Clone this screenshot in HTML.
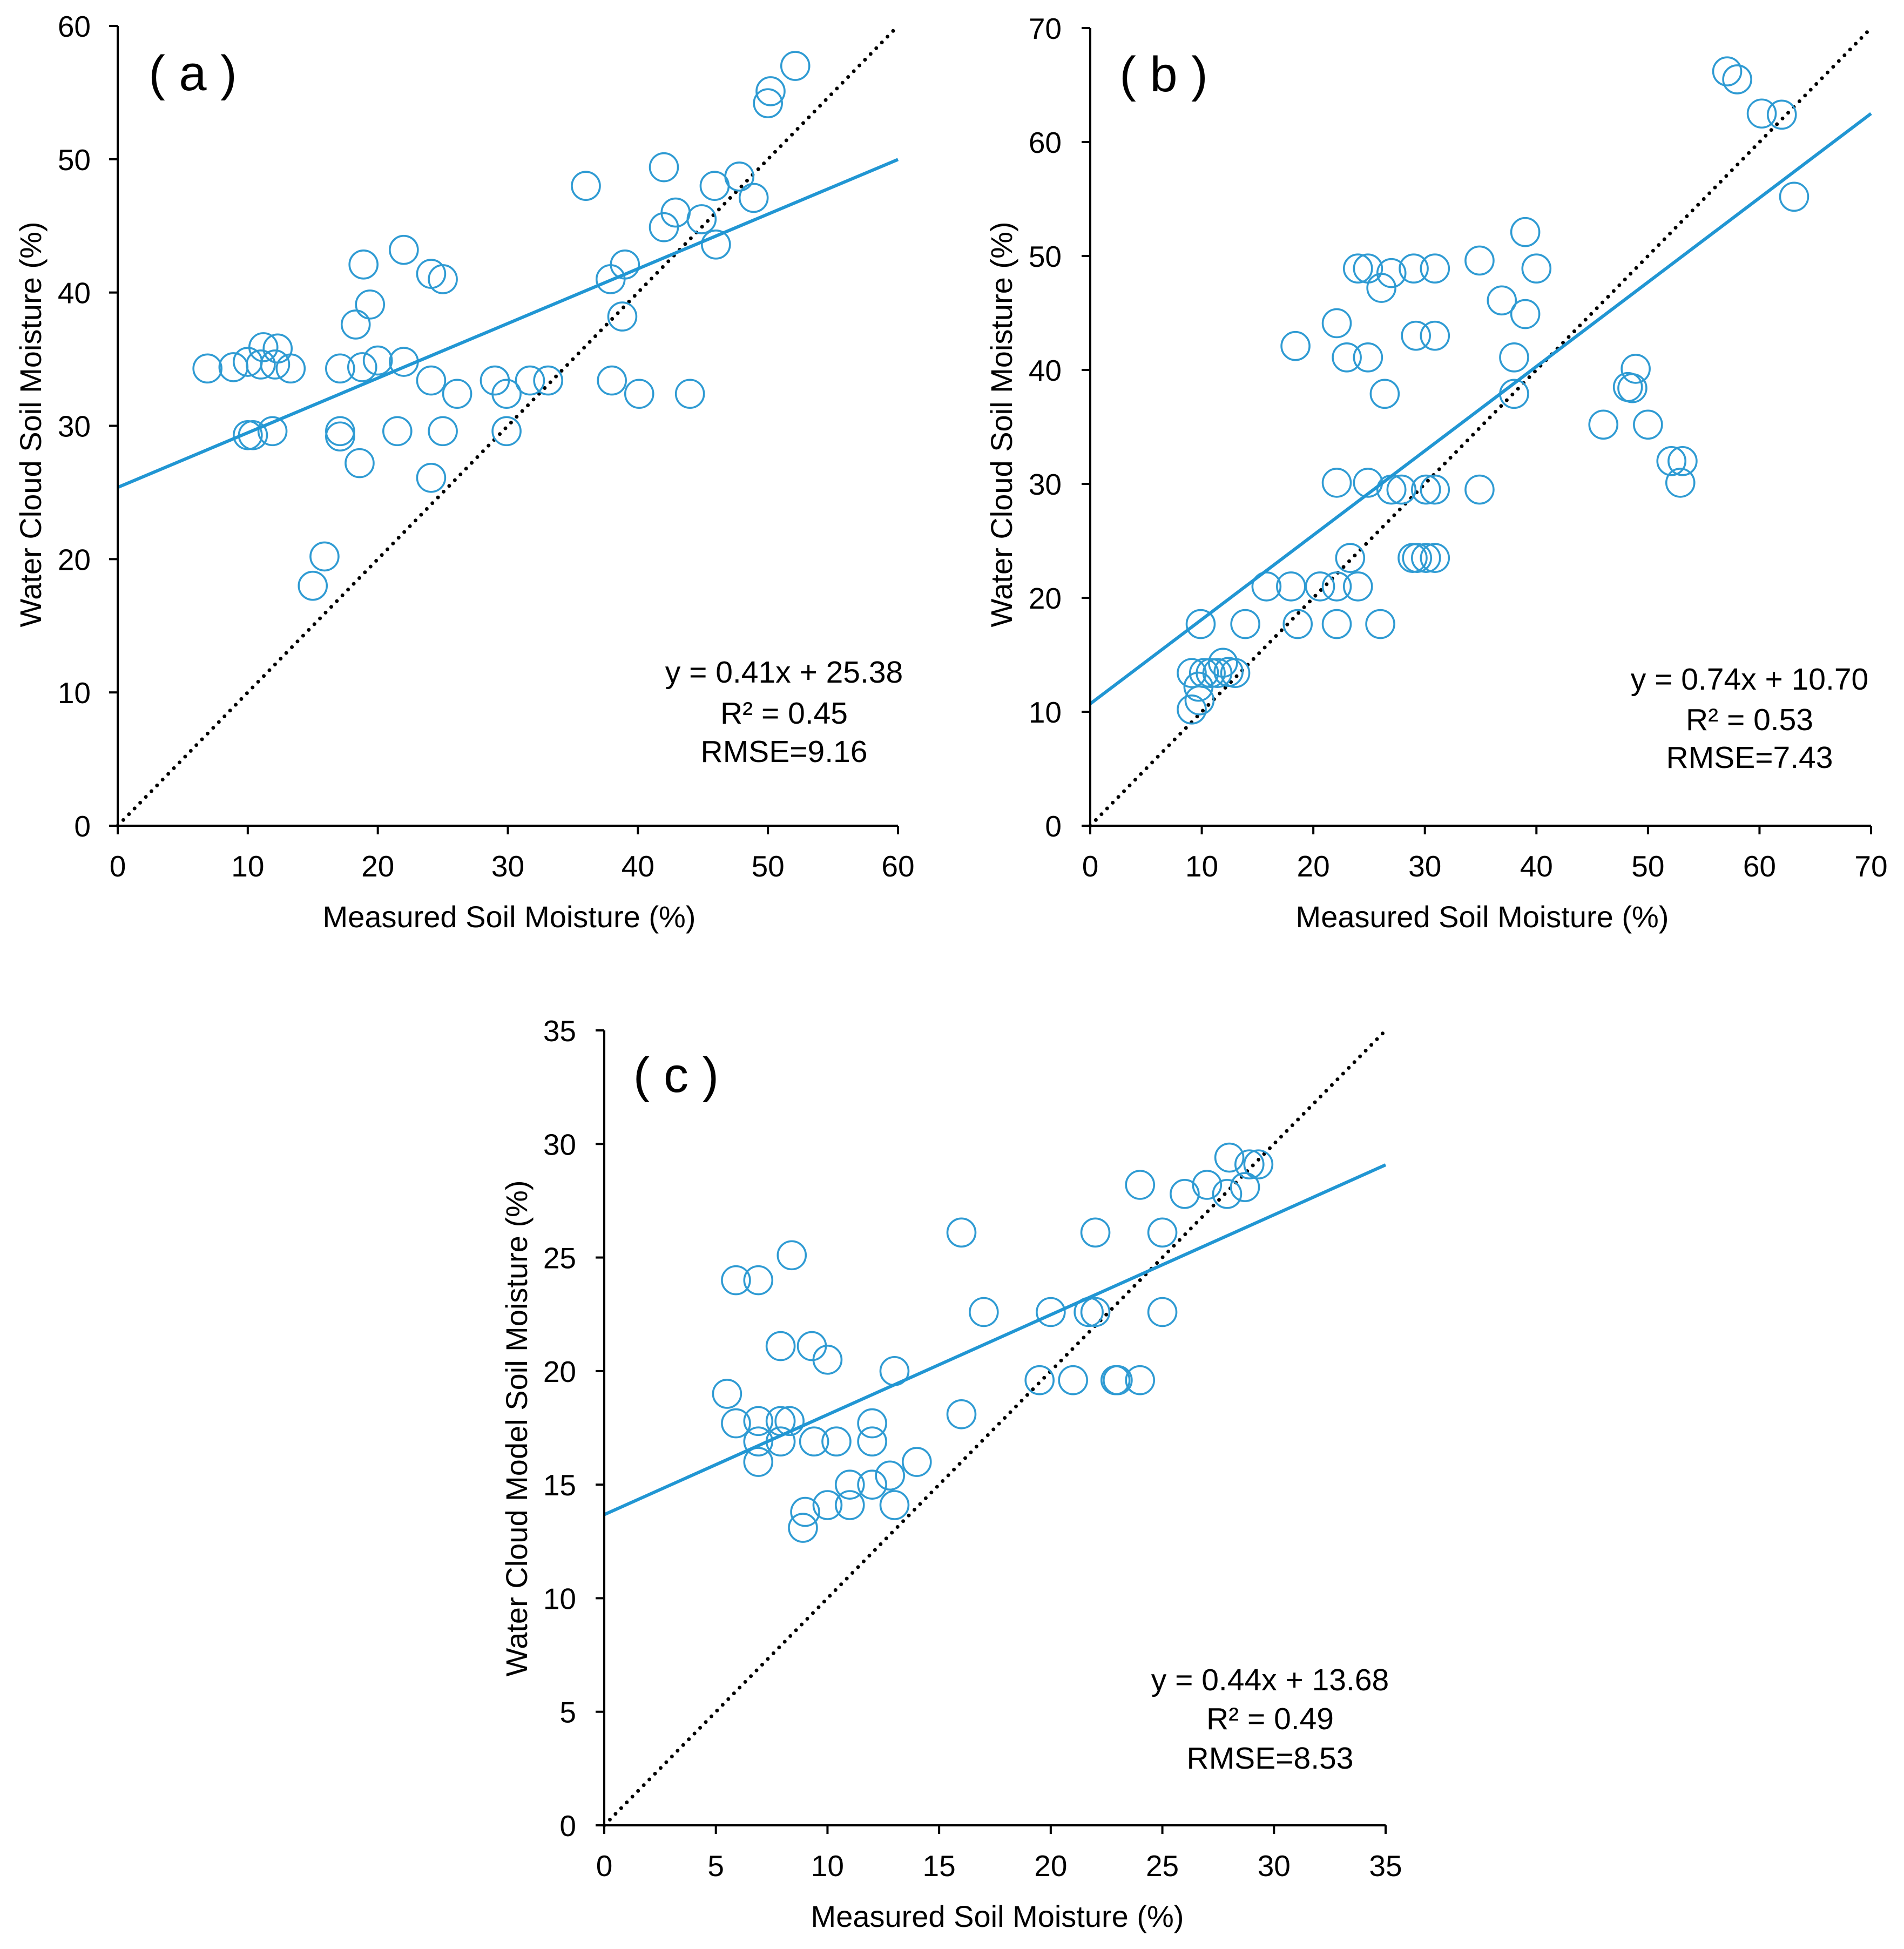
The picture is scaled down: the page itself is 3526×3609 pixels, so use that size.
<!DOCTYPE html>
<html><head><meta charset="utf-8"><style>
html,body{margin:0;padding:0;background:#fff;}
svg{display:block;font-family:"Liberation Sans",sans-serif;}
</style></head><body>
<svg id="chart" xmlns="http://www.w3.org/2000/svg" width="3526" height="3609" viewBox="0 0 3526 3609">
<rect width="3526" height="3609" fill="#fff"/>
</svg>
<script>
const aX=[6.9,8.9,10.0,11.2,11.0,12.3,12.1,13.3,10.0,10.4,11.9,17.1,18.8,20.0,22.0,18.3,19.4,18.9,22.0,24.1,25.0,17.1,17.1,18.6,21.5,25.0,24.1,26.1,24.1,15.9,15.0,29.0,29.9,29.9,31.7,33.1,36.0,37.9,39.0,38.8,38.0,40.1,44.0,42.0,42.0,42.9,44.9,45.9,46.0,47.8,48.9,50.2,50.0,52.1];
const aY=[34.3,34.4,34.8,35.9,34.6,35.8,34.6,34.3,29.3,29.3,29.6,34.3,34.4,34.9,34.8,37.6,39.1,42.1,43.2,41.4,41.0,29.6,29.2,27.2,29.6,29.6,33.4,32.4,26.1,20.2,18.0,33.4,32.4,29.6,33.4,33.4,48.0,41.0,42.1,38.2,33.4,32.4,32.4,49.4,44.9,46.0,45.5,48.0,43.6,48.7,47.1,55.1,54.2,57.0];
const bX=[57.1,58.0,60.2,62.0,63.1,39.0,34.9,40.0,24.0,24.9,27.0,26.1,29.0,30.9,36.9,39.0,22.1,18.4,23.0,24.9,29.2,30.9,26.4,38.0,38.0,48.9,48.2,48.6,46.0,50.0,52.1,53.1,52.9,22.1,24.9,27.0,27.9,30.1,30.9,34.9,23.3,28.9,29.3,30.1,30.9,15.8,18.0,20.6,22.1,24.0,9.9,13.9,18.6,22.1,26.0,9.1,10.2,11.4,11.9,13.0,9.7,9.8,9.1,10.8,12.4];
const bY=[66.2,65.5,62.5,62.4,55.2,52.1,49.6,48.9,48.9,48.9,48.5,47.2,48.9,48.9,46.1,44.9,44.1,42.1,41.1,41.1,43.0,43.0,37.9,41.1,37.9,40.1,38.5,38.4,35.2,35.2,32.0,32.0,30.1,30.1,30.1,29.5,29.5,29.5,29.5,29.5,23.5,23.5,23.5,23.5,23.5,21.0,21.0,21.0,21.0,21.0,17.7,17.7,17.7,17.7,17.7,13.4,13.4,13.4,14.3,13.4,12.2,11.0,10.2,13.4,13.5];
const cX=[5.9,6.9,8.4,5.5,5.9,6.9,7.9,8.3,6.9,6.9,7.9,7.9,9.3,10.0,9.4,10.4,12.0,12.0,13.0,14.0,12.8,11.0,12.0,11.0,13.0,10.0,9.0,8.9,16.0,16.0,17.0,20.0,21.7,22.0,19.5,21.0,22.9,23.0,24.0,22.0,25.0,25.0,24.0,26.0,27.0,28.0,27.9,28.7,28.9,29.3];
const cY=[24.0,24.0,25.1,19.0,17.7,17.8,17.8,17.8,16.9,16.0,16.9,21.1,21.1,20.5,16.9,16.9,17.7,16.9,20.0,16.0,15.4,15.0,15.0,14.1,14.1,14.1,13.8,13.1,26.1,18.1,22.6,22.6,22.6,22.6,19.6,19.6,19.6,19.6,19.6,26.1,26.1,22.6,28.2,27.8,28.2,29.4,27.8,28.1,29.1,29.1];
const aTicks=[0,10,20,30,40,50,60];
const bTicks=[0,10,20,30,40,50,60,70];
const cTicks=[0,5,10,15,20,25,30,35];
const aFit=[0.41,25.38], bFit=[0.74,10.70], cFit=[0.44,13.68];
const aStats=["y = 0.41x + 25.38","R² = 0.45","RMSE=9.16"];
const bStats=["y = 0.74x + 10.70","R² = 0.53","RMSE=7.43"];
const cStats=["y = 0.44x + 13.68","R² = 0.49","RMSE=8.53"];

const NS="http://www.w3.org/2000/svg";
const svg=document.getElementById('chart');
function mk(tag,attrs,parent){const e=document.createElementNS(NS,tag);for(const k in attrs)e.setAttribute(k,attrs[k]);(parent||svg).appendChild(e);return e;}

function panel(p){
  const g=mk('g',{});
  
  
  const max=p.ticks[p.ticks.length-1];
  const sx=v=>p.x0+(p.x1-p.x0)*v/max;
  const sy=v=>p.y0-(p.y0-p.y1)*v/max;
  const d=mk('line',{x1:sx(0),y1:sy(0),x2:sx(max),y2:sy(max),stroke:'#000','stroke-width':7,'stroke-linecap':'round','stroke-dasharray':'0 14.9'},g);
  
  
  for(let i=0;i<p.xs.length;i++){
    const c=mk('circle',{cx:sx(p.xs[i]),cy:sy(p.ys[i]),r:26,fill:'none',stroke:'#2f9bd3','stroke-width':3.6},g);
    
    
  }
  const r=mk('line',{x1:sx(0),y1:sy(p.fit[1]),x2:sx(max),y2:sy(p.fit[0]*max+p.fit[1]),stroke:'#2196d3','stroke-width':6},g);
  
  
  const ax=mk('path',{d:`M${p.x0},${p.y1} V${p.y0} H${p.x1}`,fill:'none',stroke:'#000','stroke-width':4},g);
  
  
  p.ticks.forEach(t=>{
    mk('line',{x1:sx(t),y1:p.y0,x2:sx(t),y2:p.y0+16,stroke:'#000','stroke-width':4},g);
    mk('line',{x1:p.x0-16,y1:sy(t),x2:p.x0,y2:sy(t),stroke:'#000','stroke-width':4},g);
    const tx=mk('text',{x:sx(t),y:p.y0+94,'font-size':55,'text-anchor':'middle',fill:'#000'},g);
    tx.textContent=t;
    
    
    const ty=mk('text',{x:p.ylx,y:sy(t)+20,'font-size':55,'text-anchor':'end',fill:'#000'},g);
    ty.textContent=t;
    
    
  });
  const xt=mk('text',{x:p.xtx,y:p.y0+188,'font-size':56,'text-anchor':'middle',fill:'#000'},g);
  xt.textContent='Measured Soil Moisture (%)';
  
  
  const yt=mk('text',{x:0,y:0,'font-size':56,'text-anchor':'middle',fill:'#000',transform:`translate(${p.ytx},${p.yty}) rotate(-90)`},g);
  yt.textContent=p.ytitle;
  
  
  const lb=mk('text',{x:p.lx,y:p.ly+32,'font-size':92,'text-anchor':'middle',fill:'#000'},g);
  lb.textContent=p.label;
  
  
  p.stats.forEach((s,i)=>{
    const st=mk('text',{x:p.ex,y:p.eb[i],'font-size':57,'text-anchor':'middle',fill:'#000'},g);
    st.textContent=s;
    
    
  });
}
panel({id:'a',xs:aX,ys:aY,ticks:aTicks,fit:aFit,stats:aStats,x0:218,x1:1663,y0:1529,y1:48,ylx:168,xtx:943,ytx:76,yty:786,ytitle:'Water Cloud Soil Moisture (%)',label:'( a )',lx:357,ly:135,ex:1452,eb:[1264,1340,1411]});
panel({id:'b',xs:bX,ys:bY,ticks:bTicks,fit:bFit,stats:bStats,x0:2019,x1:3465,y0:1529,y1:52,ylx:1966,xtx:2745,ytx:1874,yty:786,ytitle:'Water Cloud Soil Moisture (%)',label:'( b )',lx:2155,ly:137,ex:3240,eb:[1277,1352,1422]});
panel({id:'c',xs:cX,ys:cY,ticks:cTicks,fit:cFit,stats:cStats,x0:1119,x1:2566,y0:3380,y1:1908,ylx:1067,xtx:1847,ytx:976,yty:2645,ytitle:'Water Cloud Model Soil Moisture (%)',label:'( c )',lx:1252,ly:1990,ex:2352,eb:[3130,3202,3275]});
</script>
</body></html>
